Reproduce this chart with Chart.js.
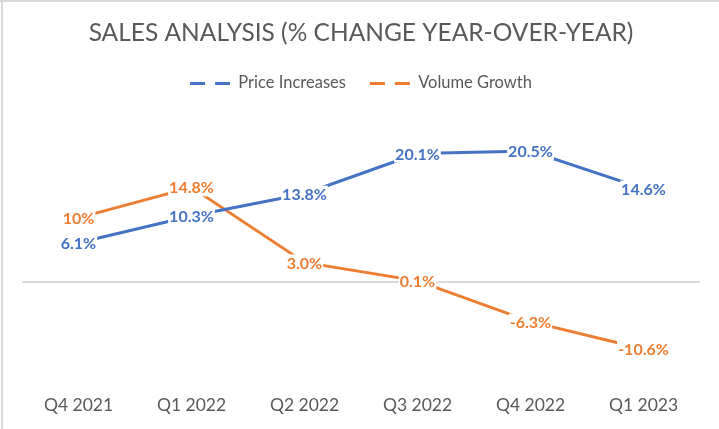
<!DOCTYPE html>
<html>
<head>
<meta charset="utf-8">
<script src="https://cdn.jsdelivr.net/npm/chart.js@4.4.1/dist/chart.umd.min.js"></script>
<style>
  html, body { margin: 0; padding: 0; background: #fff; }
  #wrap { position: relative; width: 719px; height: 429px; }
  #frameTop { position: absolute; left: 0; top: 0; width: 719px; height: 2px; background: #d9d9d9; }
  #frameLeft { position: absolute; left: 1px; top: 0; width: 2px; height: 429px; background: #d9d9d9; }
</style>
</head>
<body>
<div id="wrap">
  <canvas id="c" width="719" height="429"></canvas>
  <div id="frameTop"></div>
  <div id="frameLeft"></div>
</div>
<script>
const categories = ['Q4 2021', 'Q1 2022', 'Q2 2022', 'Q3 2022', 'Q4 2022', 'Q1 2023'];
const priceIncreases = [6.1, 10.3, 13.8, 20.1, 20.5, 14.6];
const volumeGrowth = [10, 14.8, 3.0, 0.1, -6.3, -10.6];
const priceLabels = ['6.1%', '10.3%', '13.8%', '20.1%', '20.5%', '14.6%'];
const volumeLabels = ['10%', '14.8%', '3.0%', '0.1%', '-6.3%', '-10.6%'];
const seriesNames = ['Price Increases', 'Volume Growth'];
const titleText = 'SALES ANALYSIS (% CHANGE YEAR-OVER-YEAR)';

const BLUE = '#4472C4';
const ORANGE = '#ED7D31';
const GRAY_TEXT = '#595959';
const FONT = 'Lato, "Open Sans", sans-serif';

const dataLabelPlugin = {
  id: 'dataLabels',
  afterDatasetsDraw(chart) {
    const ctx = chart.ctx;
    const labelSets = [priceLabels, volumeLabels];
    ctx.save();
    ctx.font = 'bold 16px ' + FONT;
    ctx.textAlign = 'center';
    ctx.textBaseline = 'middle';
    chart.data.datasets.forEach((ds, i) => {
      const meta = chart.getDatasetMeta(i);
      meta.data.forEach((pt, j) => {
        const txt = labelSets[i][j];
        const w = ctx.measureText(txt).width;
        ctx.fillStyle = '#ffffff';
        ctx.fillRect(pt.x - w / 2 - 1, pt.y - 8, w + 2, 17);
        ctx.fillStyle = ds.borderColor;
        ctx.fillText(txt, pt.x, pt.y + 1);
      });
    });
    ctx.restore();
  }
};

const dashedLegendPlugin = {
  id: 'dashedLegend',
  afterDraw(chart) {
    const legend = chart.legend;
    if (!legend || !legend.legendHitBoxes) return;
    const ctx = chart.ctx;
    ctx.save();
    ctx.lineWidth = 3;
    ctx.lineCap = 'butt';
    legend.legendHitBoxes.forEach((hb, i) => {
      const ds = chart.data.datasets[i];
      const y = Math.round(hb.top + hb.height / 2) + 0.5;
      ctx.strokeStyle = ds.borderColor;
      ctx.beginPath();
      ctx.moveTo(hb.left, y);
      ctx.lineTo(hb.left + 15, y);
      ctx.moveTo(hb.left + 25, y);
      ctx.lineTo(hb.left + 40, y);
      ctx.stroke();
    });
    ctx.restore();
  }
};

new Chart(document.getElementById('c'), {
  type: 'line',
  data: {
    labels: categories,
    datasets: [
      { label: seriesNames[0], data: priceIncreases, borderColor: BLUE, backgroundColor: BLUE,
        borderWidth: 3, pointRadius: 0, tension: 0, fill: false },
      { label: seriesNames[1], data: volumeGrowth, borderColor: ORANGE, backgroundColor: ORANGE,
        borderWidth: 3, pointRadius: 0, tension: 0, fill: false }
    ]
  },
  options: {
    responsive: false,
    animation: false,
    devicePixelRatio: 1,
    layout: { padding: { left: 22, right: 19, top: 0, bottom: -5 } },
    plugins: {
      title: {
        display: true,
        text: titleText,
        color: GRAY_TEXT,
        font: { family: FONT, size: 24.5, weight: 'normal' },
        padding: { top: 18, bottom: 3 }
      },
      subtitle: {
        display: true,
        text: '',
        weight: 500,
        font: { size: 1 },
        padding: { top: 10, bottom: 10.3 }
      },
      legend: {
        display: true,
        position: 'top',
        labels: {
          color: GRAY_TEXT,
          font: { family: FONT, size: 16.5 },
          boxWidth: 40,
          boxHeight: 0,
          padding: 24,
          generateLabels(chart) {
            return chart.data.datasets.map((ds, i) => ({
              text: ds.label,
              fillStyle: 'rgba(0,0,0,0)',
              strokeStyle: 'rgba(0,0,0,0)',
              fontColor: GRAY_TEXT,
              lineWidth: 0,
              hidden: false,
              datasetIndex: i
            }));
          }
        }
      },
      tooltip: { enabled: false }
    },
    scales: {
      x: {
        offset: true,
        grid: { display: false, drawTicks: false },
        border: { display: false },
        ticks: { color: GRAY_TEXT, font: { family: FONT, size: 17.5 }, padding: 18 }
      },
      y: {
        min: -15,
        max: 25,
        ticks: { display: false, stepSize: 5 },
        border: { display: false },
        grid: {
          drawTicks: false,
          lineWidth: 2,
          color: (c) => (c.tick && c.tick.value === 0 ? '#d9d9d9' : 'rgba(0,0,0,0)')
        }
      }
    }
  },
  plugins: [dataLabelPlugin, dashedLegendPlugin]
});
</script>
</body>
</html>
